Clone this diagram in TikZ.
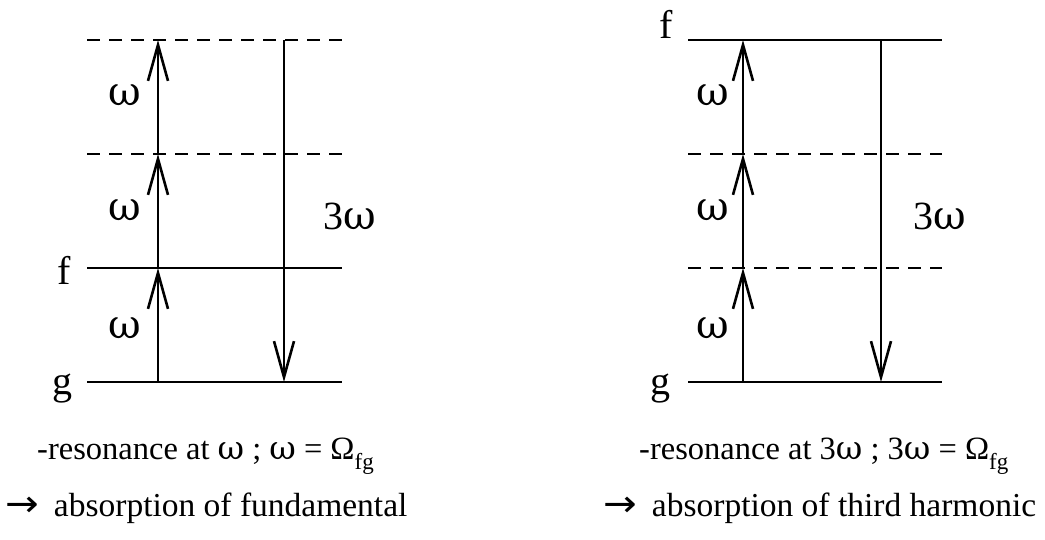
\documentclass[tikz,border=0pt]{standalone}
\usepackage{fontspec}
\usepackage{graphicx}
\setmainfont{Liberation Serif}
\newfontfamily\grk{DejaVu Serif}
\newfontfamily\djv{DejaVu Sans}
\usetikzlibrary{arrows.meta}
\newcommand{\sbs}[1]{\raisebox{-0.32em}{\fontsize{23}{24}\selectfont #1}}
\newcommand{\om}{{\grk ω}}
\newcommand{\arr}{\scalebox{1.2}[1.1]{\djv →}}
\begin{document}
\begin{tikzpicture}[x=1pt,y=-1pt,
  level/.style={line width=2.8pt},
  virt/.style={line width=2.8pt,dash pattern=on 13pt off 9pt},
  photon/.style={line width=2.8pt,-{Straight Barb[length=36pt,width=20pt,line width=2.6pt]}},
  lbl/.style={font=\fontsize{40}{44}\selectfont,inner sep=0pt},
  captext/.style={font=\fontsize{33.5}{38}\selectfont,inner sep=0pt,anchor=base west},
  captone/.style={captext,font=\fontsize{32.5}{38}\selectfont}]
\useasboundingbox (0,0) rectangle (1045,539);
% ---- left diagram ----
\coordinate (La1) at (87,40);  \coordinate (La2) at (342,40);
\coordinate (Lb1) at (87,154); \coordinate (Lb2) at (342,154);
\coordinate (Lf1) at (87,268); \coordinate (Lf2) at (342,268);
\coordinate (Lg1) at (87,382); \coordinate (Lg2) at (342,382);
\draw[virt] (La1) -- (La2);
\draw[virt] (Lb1) -- (Lb2);
\draw[level] (Lf1) -- (Lf2);
\draw[level] (Lg1) -- (Lg2);
\coordinate (Lu0) at (158,382); \coordinate (Lu1) at (158,268);
\coordinate (Lu2) at (158,154); \coordinate (Lu3) at (158,40);
\draw[photon] (Lu0) -- (Lu1);
\draw[photon] (Lu1) -- (Lu2);
\draw[photon] (Lu2) -- (Lu3);
\coordinate (Ld0) at (284,40); \coordinate (Ld1) at (284,382);
\draw[photon] (Ld0) -- (Ld1);
\node[lbl] (Lw3) at (125,95) {\om};
\node[lbl] (Lw2) at (125,210) {\om};
\node[lbl] (Lw1) at (125,328) {\om};
\node[lbl] (L3w) at (350,216) {3\om};
\node[lbl,anchor=base] (Lf) at (64,284) {f};
\node[lbl,anchor=base] (Lg) at (62,394) {g};
\node[captone] (Lc1) at (37,459) {-resonance at \om\ ; \om\ = Ω\sbs{fg}};
\node[captext] (Lc2) at (5,516) {\arr\hspace{0.45em}absorption of fundamental};
% ---- right diagram ----
\coordinate (Ra1) at (688,40);  \coordinate (Ra2) at (942,40);
\coordinate (Rb1) at (688,154); \coordinate (Rb2) at (942,154);
\coordinate (Rc1) at (688,268); \coordinate (Rc2) at (942,268);
\coordinate (Rg1) at (688,382); \coordinate (Rg2) at (942,382);
\draw[level] (Ra1) -- (Ra2);
\draw[virt] (Rb1) -- (Rb2);
\draw[virt] (Rc1) -- (Rc2);
\draw[level] (Rg1) -- (Rg2);
\coordinate (Ru0) at (743,382); \coordinate (Ru1) at (743,268);
\coordinate (Ru2) at (743,154); \coordinate (Ru3) at (743,40);
\draw[photon] (Ru0) -- (Ru1);
\draw[photon] (Ru1) -- (Ru2);
\draw[photon] (Ru2) -- (Ru3);
\coordinate (Rd0) at (881,40); \coordinate (Rd1) at (881,382);
\draw[photon] (Rd0) -- (Rd1);
\node[lbl] (Rw3) at (713,95) {\om};
\node[lbl] (Rw2) at (713,210) {\om};
\node[lbl] (Rw1) at (713,328) {\om};
\node[lbl] (R3w) at (940,216) {3\om};
\node[lbl,anchor=base] (Rf) at (666,38) {f};
\node[lbl,anchor=base] (Rg) at (660,394) {g};
\node[captone] (Rc1t) at (639,459) {-resonance at 3\om\ ; 3\om\ = Ω\sbs{fg}};
\node[captext] (Rc2t) at (603,516) {\arr\hspace{0.45em}absorption of third harmonic};
\end{tikzpicture}
\end{document}
